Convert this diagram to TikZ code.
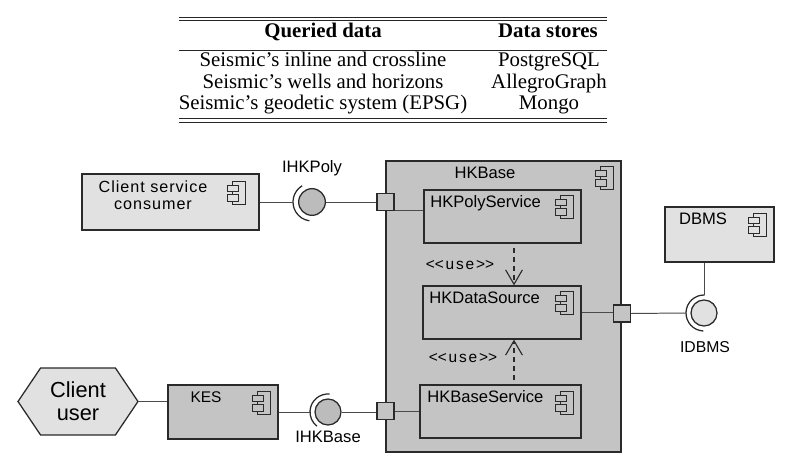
\documentclass[tikz,border=0pt]{standalone}
\usepackage{fontspec}
\setmainfont{Liberation Serif}
\setsansfont{Liberation Sans}
\newfontfamily\spacedsans[LetterSpace=6]{Liberation Sans}
\newfontfamily\widesans[LetterSpace=12]{Liberation Sans}
\usetikzlibrary{arrows.meta,shapes.symbols}
\definecolor{lightfill}{HTML}{E1E1E1}
\definecolor{midfill}{HTML}{C4C4C4}
\definecolor{ballfill}{HTML}{BCBCBC}
\definecolor{edgecol}{HTML}{2A2A2A}
\definecolor{linkcol}{HTML}{4A4A4A}
\begin{document}
\begin{tikzpicture}[line join=miter,
  comp/.style={draw=edgecol,line width=0.9pt,inner sep=0pt},
  port/.style={draw=edgecol,line width=0.9pt,fill=midfill,minimum size=0.425cm,inner sep=0pt},
  ball/.style={circle,draw=edgecol,line width=0.9pt,inner sep=0pt,minimum size=0.667cm},
  socket/.style={draw=edgecol,line width=0.9pt},
  link/.style={draw=linkcol,line width=0.7pt},
  lbl/.style={font=\fontsize{11.8}{13}\selectfont\sffamily,inner sep=0pt},
  cell/.style={font=\fontsize{14.8}{17}\selectfont,anchor=base,inner sep=0pt},
  rule/.style={draw=black!85,line width=0.5pt},
  usedep/.style={draw=edgecol,line width=0.8pt,dash pattern=on 3.5pt off 3pt,shorten <=0.1cm,
    -{Straight Barb[length=3.6mm,width=4.2mm,line width=0.8pt]}},
  icon/.pic={\draw[pic actions] (-0.12,-0.28) rectangle (0.22,0.28);
    \draw[pic actions] (-0.23,0.04) rectangle (0.03,0.2);
    \draw[pic actions] (-0.23,-0.2) rectangle (0.03,-0.04);}]
\useasboundingbox (0,0) rectangle (20,11.8);
% table of queried data and stores
\draw[rule] (4.475,11.375) -- (15.175,11.375); \draw[rule] (4.475,11.3) -- (15.175,11.3);
\node[cell] (hquery) at (8.075,10.85) {\bfseries Queried data}; \node[cell] (hstore) at (13.7,10.85) {\bfseries Data stores};
\draw[rule] (4.475,10.55) -- (15.175,10.55);
\node[cell] (q1) at (8.075,10.125) {Seismic’s inline and crossline}; \node[cell] (s1) at (13.725,10.125) {PostgreSQL};
\node[cell] (q2) at (8.075,9.5875) {Seismic’s wells and horizons}; \node[cell] (s2) at (13.725,9.5875) {AllegroGraph};
\node[cell] (q3) at (8.075,9.05) {Seismic’s geodetic system (EPSG)}; \node[cell] (s3) at (13.725,9.05) {Mongo};
\draw[rule] (4.475,8.85) -- (15.175,8.85); \draw[rule] (4.475,8.75) -- (15.175,8.75);
% HKBase component and its parts
\node[comp,fill=midfill,minimum width=5.875cm,minimum height=7.275cm] (hkbase) at (12.5875,4.1375) {};
\node[lbl] (hkbaselbl) at (12.125,7.475) {HKBase}; \pic[draw=edgecol,fill=midfill,line width=0.7pt] at (15.125,7.35) {icon};
\node[comp,fill=midfill,minimum width=3.925cm,minimum height=1.325cm] (polysvc) at (12.5625,6.3875) {};
\node[lbl,anchor=west] (polysvclbl) at (10.75,6.725) {HKPolyService}; \pic[draw=edgecol,fill=midfill,line width=0.7pt] at (14.125,6.625) {icon};
\node[comp,fill=midfill,minimum width=3.95cm,minimum height=1.325cm] (dsrc) at (12.55,3.9875) {};
\node[lbl,anchor=west] (dsrclbl) at (10.725,4.35) {HKDataSource}; \pic[draw=edgecol,fill=midfill,line width=0.7pt] at (14.125,4.225) {icon};
\node[comp,fill=midfill,minimum width=4.025cm,minimum height=1.325cm] (basesvc) at (12.5125,1.5125) {};
\node[lbl,anchor=west] (basesvclbl) at (10.675,1.875) {HKBaseService}; \pic[draw=edgecol,fill=midfill,line width=0.7pt] at (14.125,1.725) {icon};
\node[port] (portl1) at (9.6375,6.75) {}; \node[port] (portl2) at (9.6375,1.525) {}; \node[port] (portr) at (15.55,3.9625) {};
% use dependencies
\coordinate (usex) at (12.85,0);
\draw[usedep] (usex |- polysvc.south) -- (usex |- dsrc.north);
\draw[usedep] (usex |- basesvc.north) -- (usex |- dsrc.south);
\node[font=\fontsize{11}{12}\widesans,inner sep=0pt] (use1) at (11.5,5.175) {<\kern0pt<use>\kern0pt>};
\node[font=\fontsize{11}{12}\widesans,inner sep=0pt] (use2) at (11.575,2.85) {<\kern0pt<use>\kern0pt>};
% client service consumer and IHKPoly
\node[comp,fill=lightfill,minimum width=4.425cm,minimum height=1.4cm] (consumer) at (4.2625,6.75) {};
\node[font=\fontsize{11.5}{12.1}\spacedsans,align=center,inner sep=0pt] (consumerlbl) at (3.825,6.9125) {Client service\\consumer};
\pic[draw=edgecol,fill=lightfill,line width=0.7pt] at (5.925,6.975) {icon};
\node[ball,fill=ballfill] (ihkpoly) at (7.8,6.75) {}; \node[lbl] (ihkpolylbl) at (7.8,7.6) {IHKPoly};
\draw[socket] (ihkpoly.center) ++(121:0.475cm) arc[start angle=121,end angle=262,radius=0.475cm];
\draw[link] (consumer.east) -- ([xshift=-0.475cm]ihkpoly.center);
\draw[link] (ihkpoly.east) -- (portl1.west);
\draw[link] ([yshift=0.4pt]portl1.south east) -- ([yshift=0.4pt]portl1.south east -| polysvc.west);
% DBMS and IDBMS
\node[comp,fill=lightfill,minimum width=2.725cm,minimum height=1.375cm] (dbms) at (17.9875,5.9375) {};
\node[lbl] (dbmslbl) at (17.575,6.325) {DBMS}; \pic[draw=edgecol,fill=lightfill,line width=0.7pt] at (18.95,6.175) {icon};
\node[ball,fill=lightfill,minimum size=0.65cm] (idbms) at (17.6,3.975) {}; \node[lbl,font=\fontsize{11.2}{12}\selectfont\sffamily] (idbmslbl) at (17.625,3.125) {IDBMS};
\draw[socket] (idbms.center) ++(88:0.45cm) arc[start angle=88,end angle=268,radius=0.45cm];
\draw[link] (dbms.south -| idbms) -- ([yshift=0.45cm]idbms.center);
\draw[link] (portr.east) -- ([xshift=-0.45cm]idbms.center);
\draw[link] (dsrc.east) -- (dsrc.east -| portr.west);
% client user, KES and IHKBase
\node[signal,signal to=west and east,signal pointer angle=112,draw=edgecol,line width=0.9pt,fill=lightfill,
  minimum width=3cm,minimum height=1.675cm,inner sep=0pt,align=center,font=\fontsize{15.5}{16.6}\selectfont\sffamily] (cuser) at (1.95,1.7625) {Client\\user};
\node[comp,fill=midfill,minimum width=2.75cm,minimum height=1.35cm] (kes) at (5.575,1.5) {};
\node[lbl,font=\fontsize{11}{12}\selectfont\sffamily] (keslbl) at (5.15,1.875) {KES}; \pic[draw=edgecol,fill=midfill,line width=0.7pt] at (6.55,1.725) {icon};
\node[ball,fill=ballfill,minimum size=0.65cm] (ihkbase) at (8.2,1.5) {}; \node[lbl] (ihkbaselbl) at (8.2,0.875) {IHKBase};
\draw[socket] (ihkbase.center) ++(85:0.45cm) arc[start angle=85,end angle=232,radius=0.45cm];
\draw[link] (cuser.east) -- (cuser.east -| kes.west);
\draw[link] (kes.east) -- ([xshift=-0.45cm]ihkbase.center);
\draw[link] (ihkbase.east) -- (ihkbase.east -| portl2.west);
\draw[link] (portl2.east) -- (portl2.east -| basesvc.west);
\end{tikzpicture}
\end{document}
